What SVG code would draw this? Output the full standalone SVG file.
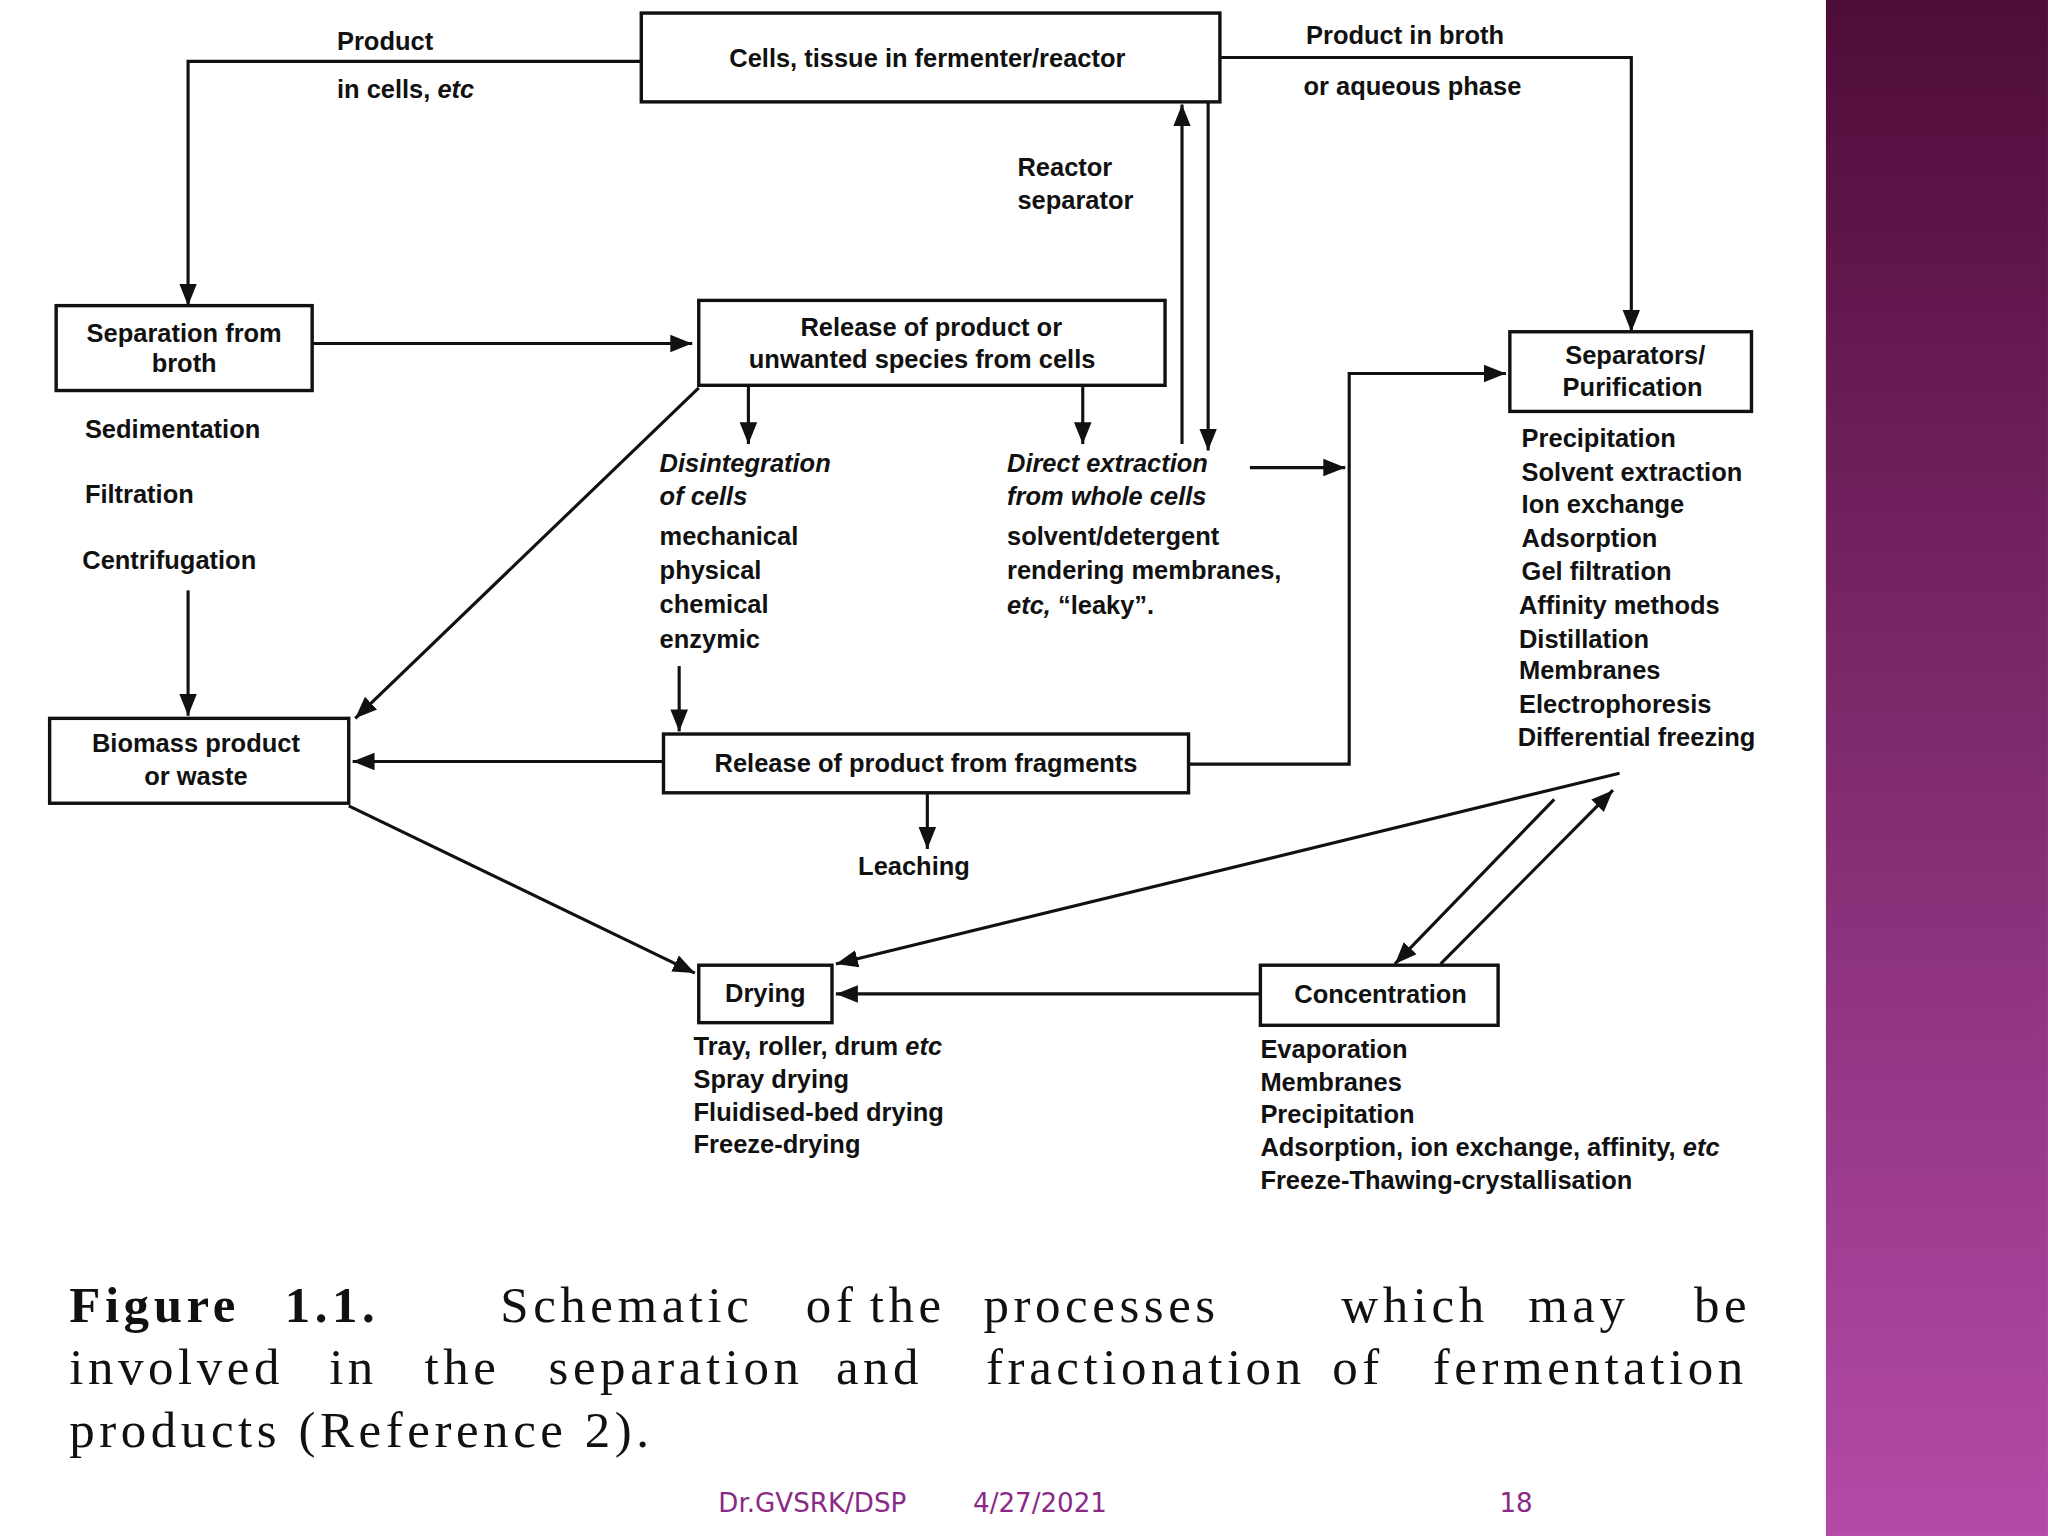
<svg xmlns="http://www.w3.org/2000/svg" width="2048" height="1536" viewBox="0 0 2048 1536">
<defs>
<linearGradient id="pg" x1="0" y1="0" x2="0" y2="1"><stop offset="0" stop-color="#4e0c38"/><stop offset="1" stop-color="#b44aa8"/></linearGradient>
<marker id="a" viewBox="0 0 10 10" refX="10" refY="5" markerWidth="7" markerHeight="7" orient="auto"><path d="M0,1 L10,5 L0,9 z" fill="#111"/></marker>
<style>
.b{fill:#fff;stroke:#111;stroke-width:2.6}
.l{fill:none;stroke:#111;stroke-width:2.4;marker-end:url(#a)}
text{font-family:"Liberation Sans",Arial,sans-serif;font-size:19.5px;font-weight:bold;fill:#111}
.c{text-anchor:middle}
.i{font-style:italic}
.cap{font-family:"Liberation Serif","Times New Roman",serif;font-size:39px;letter-spacing:3.5px;font-weight:normal}
.f{font-family:"DejaVu Sans",sans-serif;font-size:20px;font-weight:normal;fill:#8a2a86}
</style>
</defs>
<rect width="2048" height="1536" fill="#fff"/>
<g transform="scale(1.3061)">
<rect x="1398" y="0" width="170" height="1176" fill="url(#pg)"/>
<g id="connectors">
<path class="l" d="M491,47 H144 V234"/>
<path class="l" d="M934,44 H1249 V254"/>
<path class="l" d="M239,263 H530"/>
<path class="l" d="M905,340 V80"/>
<path class="l" d="M925,78 V345"/>
<path class="l" d="M573,295 V340"/>
<path class="l" d="M829,295 V340"/>
<path class="l" d="M535,297 L272,550"/>
<path class="l" d="M957,358 H1030"/>
<path class="l" d="M910,585 H1033 V286 H1153"/>
<path class="l" d="M520,510 V560"/>
<path class="l" d="M144,452 V548"/>
<path class="l" d="M508,583 H270"/>
<path class="l" d="M710,607 V650"/>
<path class="l" d="M267,617 L532,745"/>
<path class="l" d="M1240,592 L640,738"/>
<path class="l" d="M1190,612 L1068,738"/>
<path class="l" d="M1103,738 L1235,605"/>
<path class="l" d="M965,761 H640"/>
</g>
<g id="cells"><rect class="b" x="491" y="10" width="443" height="68"/><text class="c" x="710" y="51">Cells, tissue in fermenter/reactor</text></g>
<g id="sep"><rect class="b" x="43" y="234" width="196" height="65"/><text class="c" x="141" y="262">Separation from</text><text class="c" x="141" y="285">broth</text></g>
<g id="release"><rect class="b" x="535" y="230" width="357" height="65"/><text class="c" x="713" y="257">Release of product or</text><text class="c" x="706" y="282">unwanted species from cells</text></g>
<g id="purif"><rect class="b" x="1156" y="254" width="185" height="61"/><text class="c" x="1252" y="279">Separators/</text><text class="c" x="1250" y="303">Purification</text></g>
<g id="biomass"><rect class="b" x="38" y="550" width="229" height="65"/><text class="c" x="150" y="576">Biomass product</text><text class="c" x="150" y="601">or waste</text></g>
<g id="frag"><rect class="b" x="508" y="562" width="402" height="45"/><text class="c" x="709" y="591">Release of product from fragments</text></g>
<g id="drying"><rect class="b" x="535" y="739" width="102" height="44"/><text class="c" x="586" y="767">Drying</text></g>
<g id="conc"><rect class="b" x="965" y="739" width="182" height="46"/><text class="c" x="1057" y="768">Concentration</text></g>
<g id="labels">
<text x="258" y="38">Product</text><text x="258" y="75">in cells, <tspan class="i">etc</tspan></text>
<text x="1000" y="34">Product in broth</text><text x="998" y="73">or aqueous phase</text>
<text x="779" y="135">Reactor</text><text x="779" y="160">separator</text>
<text x="65" y="335">Sedimentation</text><text x="65" y="385">Filtration</text><text x="63" y="436">Centrifugation</text>
<text class="i" x="505" y="361">Disintegration</text><text class="i" x="505" y="387">of cells</text>
<text x="505" y="417">mechanical</text><text x="505" y="443">physical</text><text x="505" y="469">chemical</text><text x="505" y="496">enzymic</text>
<text class="i" x="771" y="361">Direct extraction</text><text class="i" x="771" y="387">from whole cells</text>
<text x="771" y="417">solvent/detergent</text><text x="771" y="443">rendering membranes,</text><text x="771" y="470"><tspan class="i">etc,</tspan> “leaky”.</text>
<text x="1165" y="342">Precipitation</text><text x="1165" y="368">Solvent extraction</text><text x="1165" y="393">Ion exchange</text><text x="1165" y="419">Adsorption</text><text x="1165" y="444">Gel filtration</text><text x="1163" y="470">Affinity methods</text><text x="1163" y="496">Distillation</text><text x="1163" y="520">Membranes</text><text x="1163" y="546">Electrophoresis</text><text x="1162" y="571">Differential freezing</text>
<text x="657" y="670">Leaching</text>
<text x="531" y="808">Tray, roller, drum <tspan class="i">etc</tspan></text><text x="531" y="833">Spray drying</text><text x="531" y="858">Fluidised-bed drying</text><text x="531" y="883">Freeze-drying</text>
<text x="965" y="810">Evaporation</text><text x="965" y="835">Membranes</text><text x="965" y="860">Precipitation</text><text x="965" y="885">Adsorption, ion exchange, affinity, <tspan class="i">etc</tspan></text><text x="965" y="910">Freeze-Thawing-crystallisation</text>
</g>
<g id="caption">
<text class="cap" y="1012"><tspan x="53" font-weight="bold">Figure</tspan><tspan x="218" font-weight="bold">1.1.</tspan><tspan x="383">Schematic</tspan><tspan x="617">of</tspan><tspan x="666">the</tspan><tspan x="753">processes</tspan><tspan x="1027">which</tspan><tspan x="1170">may</tspan><tspan x="1297">be</tspan></text>
<text class="cap" y="1060"><tspan x="53">involved</tspan><tspan x="252">in</tspan><tspan x="325">the</tspan><tspan x="420">separation</tspan><tspan x="640">and</tspan><tspan x="755">fractionation</tspan><tspan x="1020">of</tspan><tspan x="1097">fermentation</tspan></text>
<text class="cap" x="53" y="1108">products (Reference 2).</text>
</g>
<text class="f" x="550" y="1158">Dr.GVSRK/DSP</text><text class="f" x="745" y="1158">4/27/2021</text><text class="f" x="1148" y="1158">18</text>
</g>
</svg>
